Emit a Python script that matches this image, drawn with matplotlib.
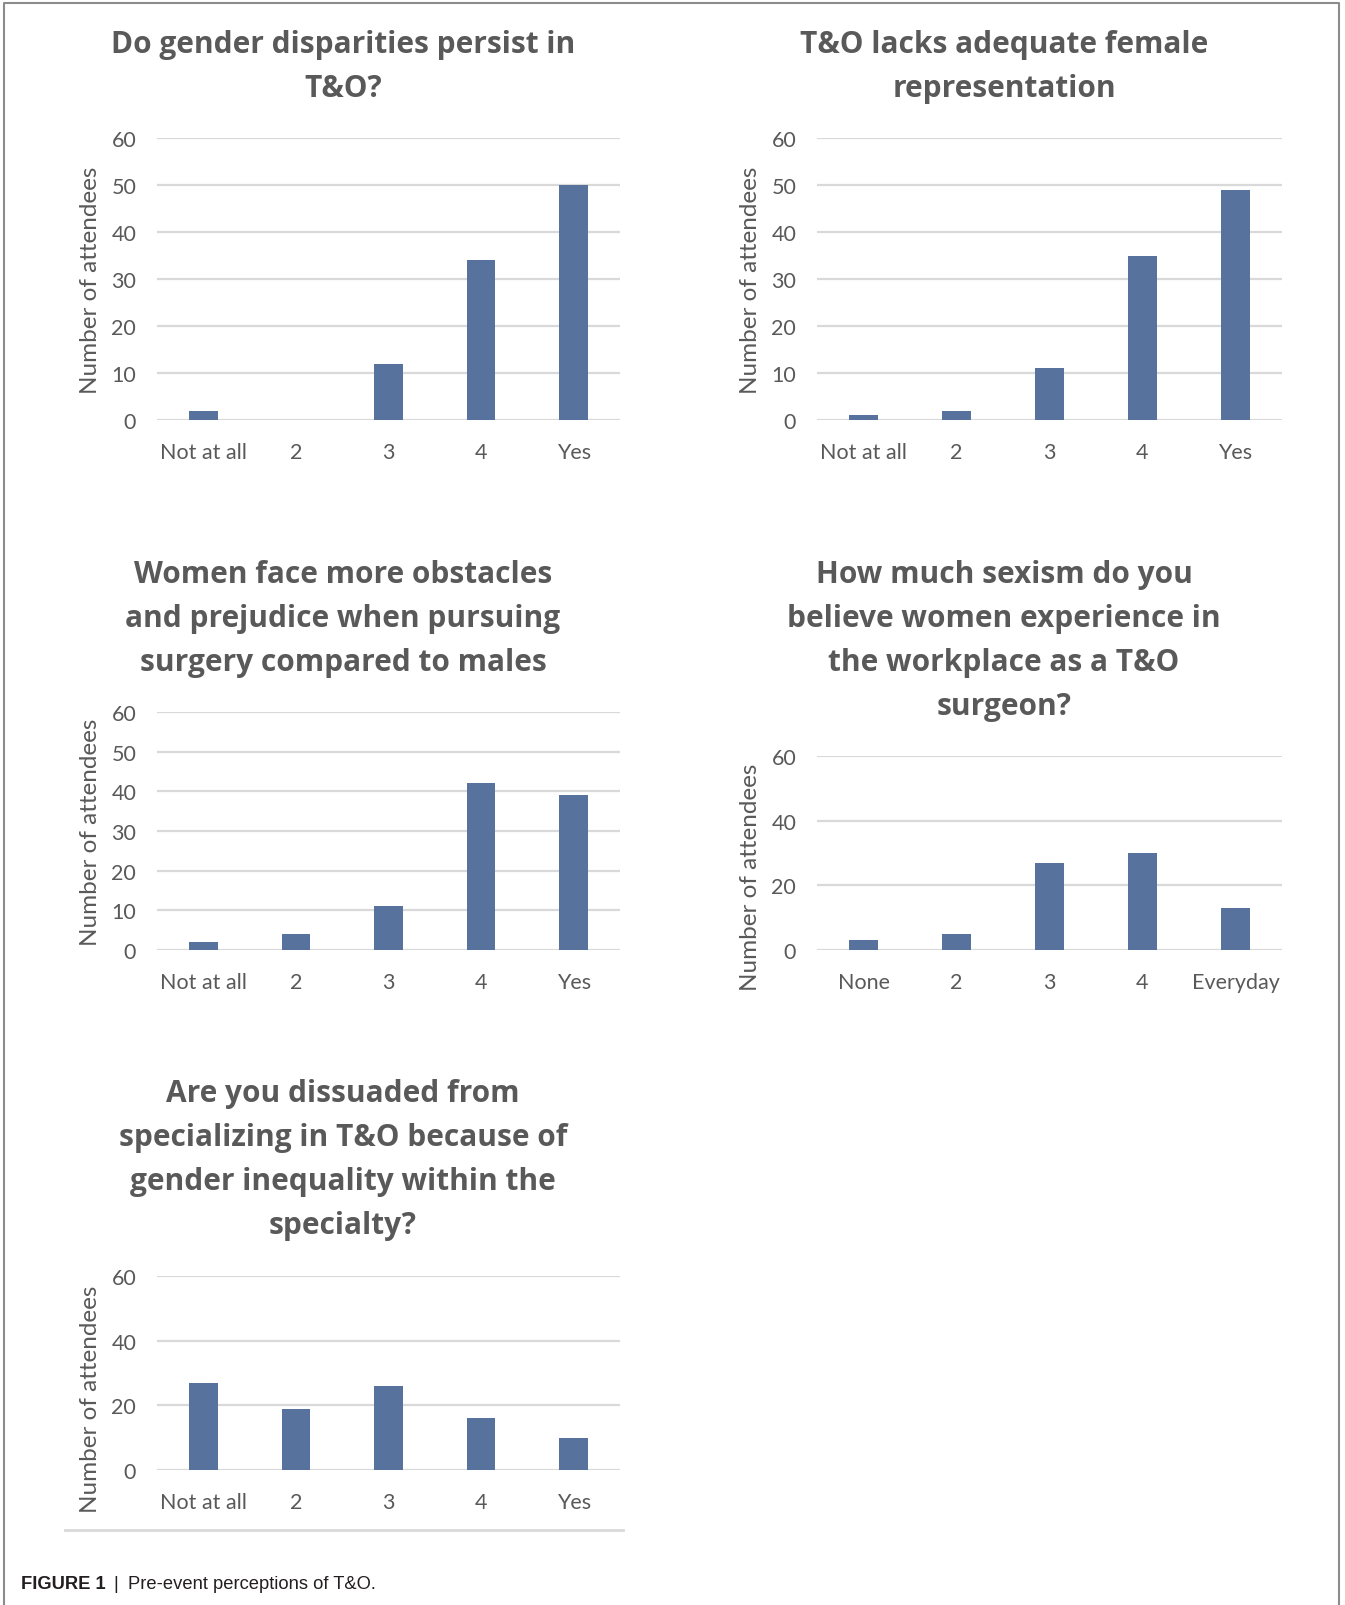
import numpy as np
import matplotlib.pyplot as plt
from matplotlib.lines import Line2D

W, H = 1345, 1606

categories_agree = ["Not at all", "2", "3", "4", "Yes"]
categories_sexism = ["None", "2", "3", "4", "Everyday"]

disparities_persist = [2, 0, 12, 34, 50]
lacks_female_rep = [1, 2, 11, 35, 49]
more_obstacles = [2, 4, 11, 42, 39]
sexism_workplace = [3, 5, 27, 30, 13]
dissuaded = [27, 19, 26, 16, 10]

title_persist = ["Do gender disparities persist in", "T&O?"]
title_rep = ["T&O lacks adequate female", "representation"]
title_obstacles = ["Women face more obstacles", "and prejudice when pursuing",
                   "surgery compared to males"]
title_sexism = ["How much sexism do you", "believe women experience in",
                "the workplace as a T&O", "surgeon?"]
title_dissuaded = ["Are you dissuaded from", "specializing in T&O because of",
                   "gender inequality within the", "specialty?"]

BAR = "#57729d"
GRID = "#d9d9d9"
TXT = "#595959"

plt.rcParams['font.family'] = ['Lato', 'DejaVu Sans']

fig = plt.figure(figsize=(W / 100, H / 100), dpi=100)
fig.patch.set_facecolor("white")


def add_panel(left, right, top, bottom, cats, vals, step, title, title_x, title_y,
              ylab_y=0.5):
    ax = fig.add_axes([left / W, 1 - bottom / H, (right - left) / W, (bottom - top) / H])
    x = np.arange(len(cats))
    ax.bar(x, vals, width=0.31, color=BAR, zorder=3)
    ax.set_xlim(-0.5, len(cats) - 0.5)
    ax.set_ylim(0, 60)
    ax.set_yticks(np.arange(0, 61, step))
    ax.set_xticks(x)
    ax.set_xticklabels(cats)
    ax.yaxis.grid(True, color=GRID, linewidth=1.6, zorder=0)
    for s in ax.spines.values():
        s.set_visible(False)
    ax.tick_params(length=0, labelsize=15.5, colors=TXT)
    ax.tick_params(axis="y", pad=15)
    ax.tick_params(axis="x", pad=16)
    ax.set_ylabel("Number of attendees", fontsize=17.5, color=TXT)
    ax.yaxis.set_label_coords(-0.12, ylab_y)
    for i, line in enumerate(title):
        fig.text(title_x / W, 1 - (title_y + i * 44) / H, line, ha="center", va="center",
                 fontsize=21.5, fontweight="bold", family=["Open Sans", "DejaVu Sans"],
                 color=TXT)
    return ax


add_panel(157, 620, 139, 421, categories_agree, disparities_persist, 10,
          title_persist, 343, 45)
add_panel(817, 1282, 139, 421, categories_agree, lacks_female_rep, 10,
          title_rep, 1004, 45)
add_panel(157, 620, 713, 951, categories_agree, more_obstacles, 10,
          title_obstacles, 343, 575)
add_panel(817, 1282, 757, 951, categories_sexism, sexism_workplace, 20,
          title_sexism, 1004, 575, ylab_y=0.38)
add_panel(157, 620, 1277, 1471, categories_agree, dissuaded, 20,
          title_dissuaded, 343, 1094, ylab_y=0.37)

# bottom rule under the last panel
fig.add_artist(Line2D([65 / W, 623 / W], [1 - 1531 / H] * 2, color=GRID, linewidth=2))

# frame on left, top and right
fig.add_artist(Line2D([4 / W, 4 / W, 1339 / W, 1339 / W],
                      [0, 1 - 4 / H, 1 - 4 / H, 0], color="#8c8c8c", linewidth=1.5))

fig.text(21 / W, 1 - 1585 / H, "FIGURE 1", fontsize=13.2, fontweight="bold",
         family="Liberation Sans", color="#231f20", va="center")
fig.text(113 / W, 1 - 1585 / H, "|", fontsize=13.2,
         family="Liberation Sans", color="#231f20", va="center")
fig.text(128 / W, 1 - 1585 / H, "Pre-event perceptions of T&O.", fontsize=13.2,
         family="Liberation Sans", color="#231f20", va="center")

fig.savefig("out.png", dpi=100, facecolor="white")
